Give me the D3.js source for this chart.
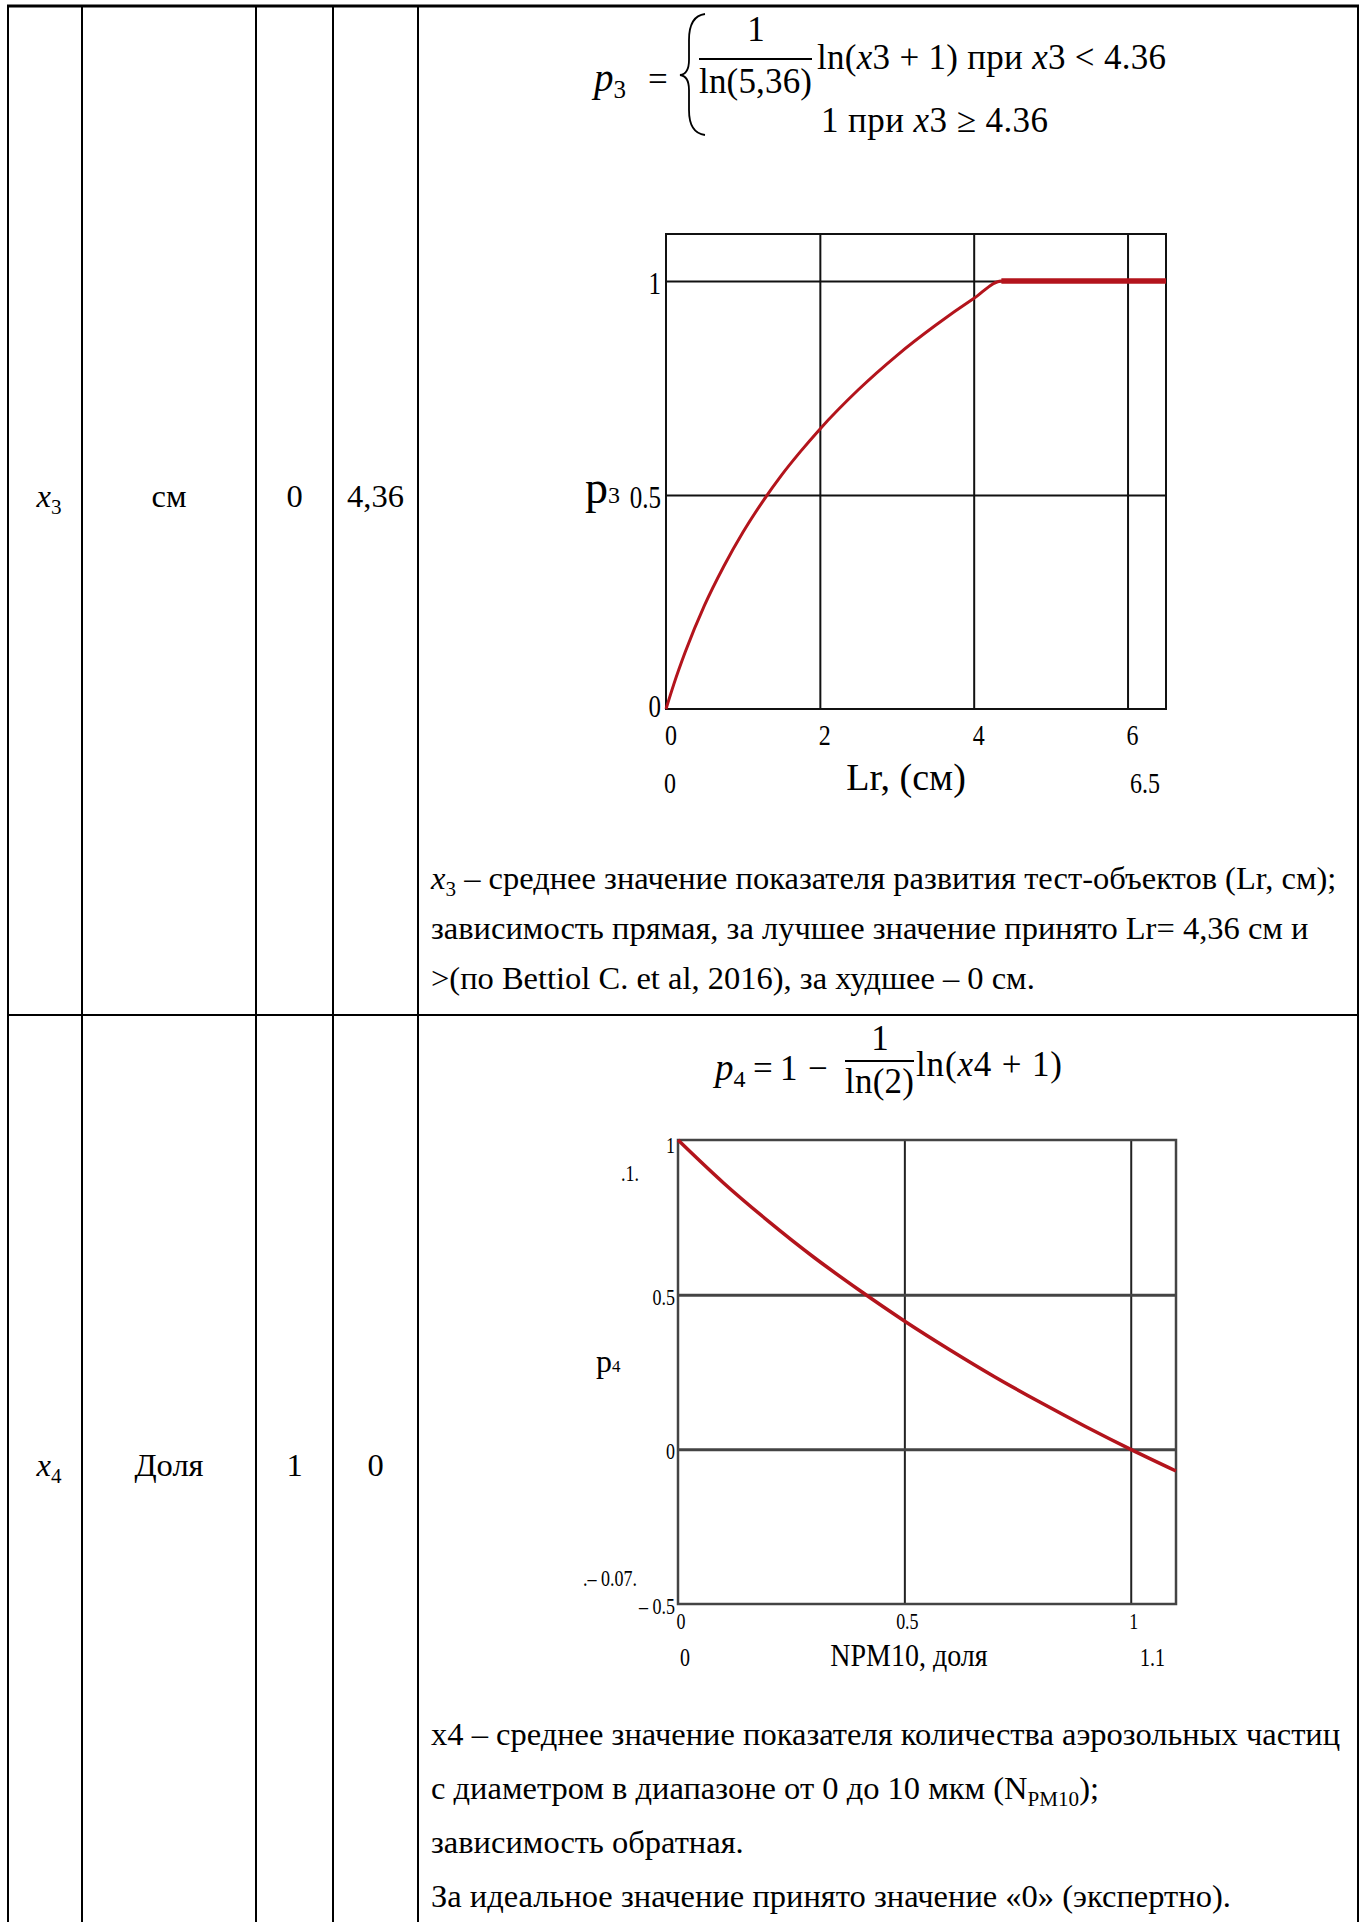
<!DOCTYPE html>
<html>
<head>
<meta charset="utf-8">
<script src="https://cdn.jsdelivr.net/npm/d3@7"></script>
<style>
  body { margin: 0; background: #fff; }
  svg text { font-family: "Liberation Serif", "Times New Roman", serif; fill: #000; }
</style>
</head>
<body>
<script>
// Table cells (symbol, unit, worst, best)
const rowSymbols = ["3", "4"];
const rowUnits = ["см", "Доля"];
const rowWorst = ["0", "1"];
const rowBest = ["4,36", "0"];

// p3 curve, values
const p3Range = [0, 6.5];
const p3YRange = [0, 1.11];
const p3X = [0, 0.1, 0.25, 0.5, 0.75, 1, 1.25, 1.5, 1.75, 2, 2.5, 3, 3.5, 4, 4.36, 5, 6, 6.5];
const p3Y = [0, 0.057, 0.133, 0.242, 0.333, 0.413, 0.483, 0.546, 0.602, 0.654, 0.746, 0.826, 0.896, 0.959, 1, 1, 1, 1];
const p3XTicks = [0, 2, 4, 6];
const p3YTicks = [0, 0.5, 1];

// p4 curve, values
const p4Range = [0, 1.1];
const p4YRange = [-0.5, 1];
const p4X = [0, 0.1, 0.2, 0.3, 0.4, 0.5, 0.6, 0.7, 0.8, 0.9, 1, 1.1];
const p4Y = [1, 0.862, 0.737, 0.621, 0.515, 0.415, 0.322, 0.234, 0.152, 0.074, 0, -0.07];
const p4XTicks = [0, 0.5, 1];
const p4YTicks = [-0.5, 0, 0.5, 1];

const red = "#b3141c";

const svg = d3.select("body").append("svg")
    .attr("width", 1365)
    .attr("height", 1922);

// ---------- table grid ----------
const colX = [8, 82, 256, 333, 418, 1358];
const rowTop = 6, rowSplit = 1015;

colX.forEach(x => {
    svg.append("line")
        .attr("x1", x).attr("x2", x)
        .attr("y1", rowTop).attr("y2", 1922)
        .attr("stroke", "#000").attr("stroke-width", 2);
});
[rowTop, rowSplit].forEach((y, i) => {
    svg.append("line")
        .attr("x1", colX[0] - 1).attr("x2", colX[colX.length - 1] + 1)
        .attr("y1", y).attr("y2", y)
        .attr("stroke", "#000").attr("stroke-width", i === 0 ? 3 : 2);
});

// text with optional vertical stretch (the Mathcad labels look stretched)
function label(g, x, y, txt, size, anchor, sy) {
    return g.append("text")
        .attr("transform", `translate(${x},${y}) scale(1,${sy || 1})`)
        .attr("text-anchor", anchor || "start")
        .attr("font-size", size)
        .text(txt);
}

// rich text line: parts = [{t, i (italic), sub}]
function richLine(g, x, y, parts, size, anchor) {
    const t = g.append("text")
        .attr("x", x).attr("y", y)
        .attr("font-size", size)
        .attr("text-anchor", anchor || "start");
    let shifted = false;
    parts.forEach(p => {
        const s = t.append("tspan").text(p.t);
        if (p.i) s.attr("font-style", "italic");
        if (p.sub) {
            s.attr("font-size", size * 0.65).attr("dy", size * 0.2);
            shifted = true;
        } else if (shifted) {
            s.attr("dy", -size * 0.2);
            shifted = false;
        }
    });
    return t;
}

// formula piece, optionally stretched to the width it has in the picture
function mathPiece(x, y, parts, size, width) {
    const t = richLine(svg, x, y, parts, size);
    if (width) t.attr("textLength", width).attr("lengthAdjust", "spacing");
    return t;
}

// left cells
const bodySize = 32.5;
const rowTextY = [507, 1476];
const cellCenters = colX.slice(0, 4).map((x, i) => (x + colX[i + 1]) / 2);
rowSymbols.forEach((s, r) => {
    richLine(svg, cellCenters[0] + 4, rowTextY[r], [{ t: "x", i: true }, { t: s, sub: true }], bodySize, "middle");
    richLine(svg, cellCenters[1], rowTextY[r], [{ t: rowUnits[r] }], bodySize, "middle");
    richLine(svg, cellCenters[2], rowTextY[r], [{ t: rowWorst[r] }], bodySize, "middle");
    richLine(svg, cellCenters[3], rowTextY[r], [{ t: rowBest[r] }], bodySize, "middle");
});

// ---------- formula p3 ----------
const fSize = 35;
const p3f = svg.append("text").attr("x", 594).attr("y", 91).attr("font-size", 39);
p3f.append("tspan").attr("font-style", "italic").text("p");
p3f.append("tspan").attr("font-size", 25).attr("dy", 7).text("3");
mathPiece(648, 91, [{ t: "=" }], fSize, 22);
svg.append("path")
    .attr("d", "M705,14 Q689,16 689,40 L689,60 Q689,74 680,75 Q689,76 689,90 L689,110 Q689,133 705,135")
    .attr("fill", "none").attr("stroke", "#000").attr("stroke-width", 1.8);
richLine(svg, 756, 41, [{ t: "1" }], fSize, "middle");
svg.append("line").attr("x1", 699).attr("x2", 812).attr("y1", 59).attr("y2", 59)
    .attr("stroke", "#000").attr("stroke-width", 2);
mathPiece(699, 93, [{ t: "ln(5,36)" }], fSize, 113);
mathPiece(817, 69, [{ t: "ln(" }, { t: "x", i: true }, { t: "3 + 1)  при " }, { t: "x", i: true }, { t: "3 < 4.36" }], fSize, 349);
mathPiece(821, 132, [{ t: "1 при " }, { t: "x", i: true }, { t: "3 ≥ 4.36" }], fSize, 227);

// ---------- chart p3 ----------
const x3 = d3.scaleLinear().domain(p3Range).range([666, 1166]);
const y3 = d3.scaleLinear().domain(p3YRange).range([709, 234]);
const g3 = svg.append("g");

g3.append("g")
    .attr("transform", `translate(0,${y3(p3YRange[0])})`)
    .call(d3.axisBottom(x3).tickValues(p3XTicks.slice(1)).tickSize(-(y3(p3YRange[0]) - y3(p3YRange[1]))).tickFormat(""))
    .call(g => g.select(".domain").remove())
    .selectAll("line").attr("stroke", "#111").attr("stroke-width", 2);
g3.append("g")
    .attr("transform", `translate(${x3(p3Range[0])},0)`)
    .call(d3.axisLeft(y3).tickValues(p3YTicks.slice(1)).tickSize(-(x3(p3Range[1]) - x3(p3Range[0]))).tickFormat(""))
    .call(g => g.select(".domain").remove())
    .selectAll("line").attr("stroke", "#111").attr("stroke-width", 2);
g3.append("rect")
    .attr("x", x3(p3Range[0])).attr("y", y3(p3YRange[1]))
    .attr("width", x3(p3Range[1]) - x3(p3Range[0]))
    .attr("height", y3(p3YRange[0]) - y3(p3YRange[1]))
    .attr("fill", "none").attr("stroke", "#111").attr("stroke-width", 2);

const p3Data = p3X.map((x, i) => [x, p3Y[i]]);
const line3 = d3.line().x(d => x3(d[0])).y(d => y3(d[1])).curve(d3.curveMonotoneX);
g3.append("path").attr("d", line3(p3Data))
    .attr("fill", "none").attr("stroke", red).attr("stroke-width", 3);
g3.append("path").attr("d", line3(p3Data.filter(d => d[1] === 1)))
    .attr("fill", "none").attr("stroke", red).attr("stroke-width", 5.5);

// tick labels
p3XTicks.forEach(v => label(g3, x3(v) + 5, 745, v, 24, "middle", 1.2));
p3YTicks.forEach(v => label(g3, x3(p3Range[0]) - 5, y3(v) + (v === 0 ? 8 : 13), v, 25, "end", 1.3));
label(g3, x3(p3Range[0]) + 4, 793, p3Range[0], 24, "middle", 1.25);
label(g3, x3(p3Range[1]) - 6, 793, p3Range[1], 24, "end", 1.25);
label(g3, 906, 790, "Lr, (см)", 38, "middle");
const p3lab = g3.append("text").attr("x", 585).attr("y", 503).attr("font-size", 46);
p3lab.append("tspan").text("p");
p3lab.append("tspan").attr("font-size", 24).text("3");

// description row 1
[
    [{ t: "x", i: true }, { t: "3", sub: true }, { t: " – среднее значение показателя развития тест-объектов (Lr, см);" }],
    [{ t: "зависимость прямая, за лучшее значение принято Lr= 4,36 см и" }],
    [{ t: ">(по Bettiol C. et al, 2016), за худшее – 0 см." }]
].forEach((parts, i) => richLine(svg, 431, 889 + i * 50, parts, bodySize));

// ---------- formula p4 ----------
const p4f = svg.append("text").attr("x", 715).attr("y", 1080).attr("font-size", 37);
p4f.append("tspan").attr("font-style", "italic").text("p");
p4f.append("tspan").attr("font-size", 24).attr("dy", 7).text("4");
mathPiece(753, 1080, [{ t: "=" }], fSize, 19);
mathPiece(780, 1080, [{ t: "1" }], fSize);
mathPiece(808, 1080, [{ t: "−" }], fSize, 19);
richLine(svg, 880, 1050, [{ t: "1" }], fSize, "middle");
svg.append("line").attr("x1", 845).attr("x2", 914).attr("y1", 1061).attr("y2", 1061)
    .attr("stroke", "#000").attr("stroke-width", 2);
mathPiece(845, 1093, [{ t: "ln(2)" }], fSize, 69);
mathPiece(916, 1076, [{ t: "ln(" }, { t: "x", i: true }, { t: "4 + 1)" }], fSize, 146);

// ---------- chart p4 ----------
const x4 = d3.scaleLinear().domain(p4Range).range([678, 1176]);
const y4 = d3.scaleLinear().domain(p4YRange).range([1604, 1140]);
const g4 = svg.append("g");

g4.append("g")
    .attr("transform", `translate(0,${y4(p4YRange[0])})`)
    .call(d3.axisBottom(x4).tickValues(p4XTicks.slice(1)).tickSize(-(y4(p4YRange[0]) - y4(p4YRange[1]))).tickFormat(""))
    .call(g => g.select(".domain").remove())
    .selectAll("line").attr("stroke", "#222").attr("stroke-width", 2);
g4.append("g")
    .attr("transform", `translate(${x4(p4Range[0])},0)`)
    .call(d3.axisLeft(y4).tickValues(p4YTicks.slice(1, -1)).tickSize(-(x4(p4Range[1]) - x4(p4Range[0]))).tickFormat(""))
    .call(g => g.select(".domain").remove())
    .selectAll("line").attr("stroke", "#444").attr("stroke-width", 3);
g4.append("rect")
    .attr("x", x4(p4Range[0])).attr("y", y4(p4YRange[1]))
    .attr("width", x4(p4Range[1]) - x4(p4Range[0]))
    .attr("height", y4(p4YRange[0]) - y4(p4YRange[1]))
    .attr("fill", "none").attr("stroke", "#444").attr("stroke-width", 2.5);

const p4Data = p4X.map((x, i) => [x, p4Y[i]]);
const line4 = d3.line().x(d => x4(d[0])).y(d => y4(d[1])).curve(d3.curveMonotoneX);
g4.append("path").attr("d", line4(p4Data))
    .attr("fill", "none").attr("stroke", red).attr("stroke-width", 3.5);

p4XTicks.forEach(v => label(g4, x4(v) + 3, 1629, v, 18, "middle", 1.3));
p4YTicks.forEach(v => label(g4, x4(p4Range[0]) - 3, y4(v) + (v === 1 ? 13 : 10), v < 0 ? "– " + Math.abs(v) : v, 18, "end", 1.3));
label(g4, 639, y4(p4YRange[1]) + 41, "." + p4Y[0] + ".", 18, "end", 1.3);
label(g4, 637, y4(p4YRange[0]) - 18, ".– " + Math.abs(p4Y[p4Y.length - 1]) + ".", 18, "end", 1.3);
label(g4, x4(p4Range[0]) + 7, 1666, p4Range[0], 20, "middle", 1.3);
label(g4, x4(p4Range[1]) - 11, 1666, p4Range[1], 20, "end", 1.3);
label(g4, 909, 1666, "NPM10, доля", 28, "middle", 1.15);
const p4lab = g4.append("text").attr("x", 596).attr("y", 1372).attr("font-size", 32);
p4lab.append("tspan").text("p");
p4lab.append("tspan").attr("font-size", 17).text("4");

// description row 2
[
    [{ t: "x4 – среднее значение показателя количества аэрозольных частиц" }],
    [{ t: "с диаметром в диапазоне от 0 до 10 мкм (N" }, { t: "PM10", sub: true }, { t: ");" }],
    [{ t: "зависимость обратная." }],
    [{ t: "За идеальное значение принято значение «0» (экспертно)." }]
].forEach((parts, i) => richLine(svg, 431, 1745 + i * 54, parts, bodySize));
</script>
</body>
</html>
